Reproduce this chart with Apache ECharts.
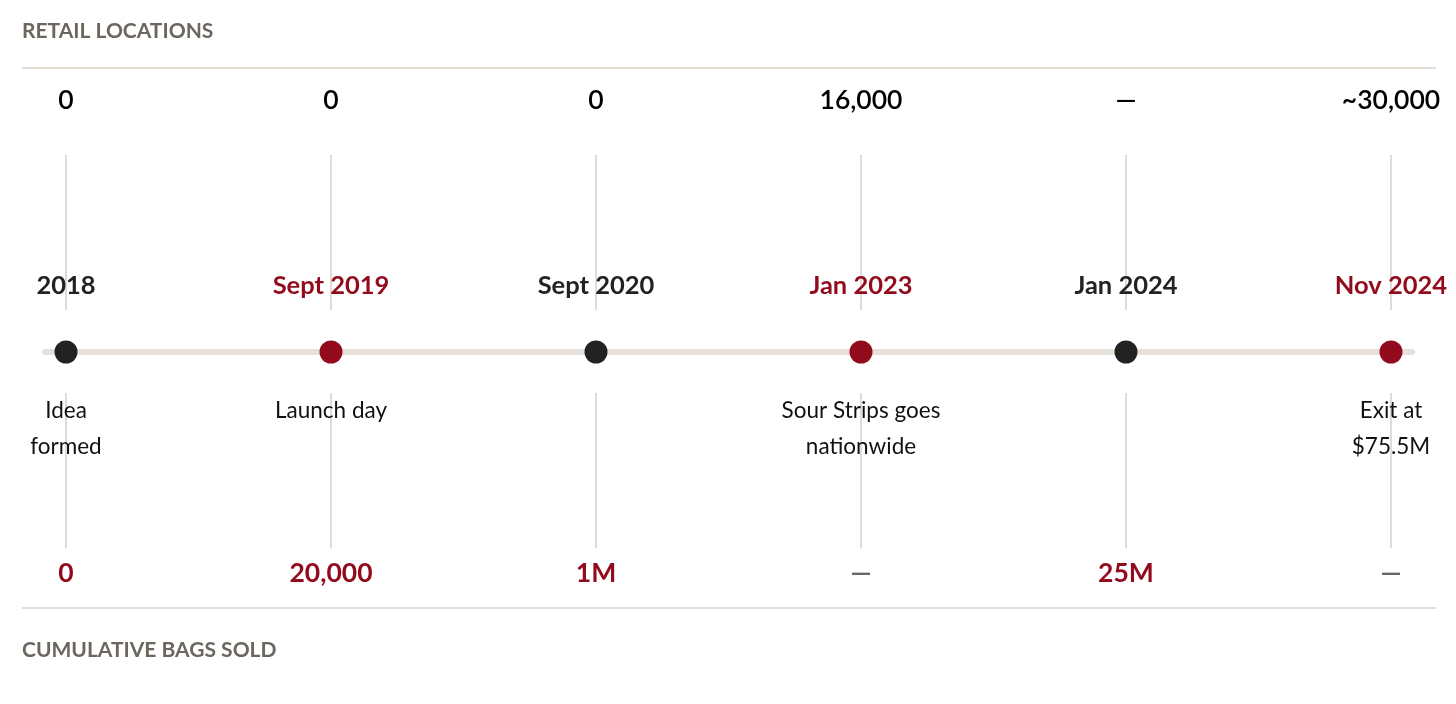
<!DOCTYPE html>
<html lang="en">
<head>
    <meta charset="UTF-8">
    <title>Timeline</title>
    <script src="https://cdn.jsdelivr.net/npm/echarts@6/dist/echarts.min.js"></script>
    <style>
        html, body { margin: 0; padding: 0; background: #fff; }
        #main { width: 1456px; height: 704px; }
    </style>
</head>
<body>
    <div id="main"></div>
    <script type="text/javascript">
        // data
        var dates = ['2018', 'Sept 2019', 'Sept 2020', 'Jan 2023', 'Jan 2024', 'Nov 2024'];
        var events = ['Idea\nformed', 'Launch day', '', 'Sour Strips goes\nnationwide', '', 'Exit at\n$75.5M'];
        var retailLocations = ['0', '0', '0', '16,000', '—', '~30,000'];
        var bagsSold = ['0', '20,000', '1M', '—', '25M', '—'];
        var highlight = [false, true, false, true, false, true];

        var RED = '#920b1d';
        var BLACK = '#222222';
        var GREY_LINE = '#e0dcd5';
        var FONT = 'Lato, "Noto Sans", sans-serif';

        // y units are pixels relative to the timeline (up = positive)
        var ROW_TOP = 252, ROW_BOTTOM = -221;
        var SEG_UP = [197, 42], SEG_DOWN = [-41, -196];

        var myChart = echarts.init(document.getElementById('main'));

        var idx = dates.map(function (d, i) { return i; });

        myChart.setOption({
            animation: false,
            title: [{
                text: 'RETAIL LOCATIONS',
                left: 17, top: 16,
                textStyle: { fontFamily: FONT, fontSize: 21, fontWeight: 'bold', color: '#6b675f' }
            }, {
                text: 'CUMULATIVE BAGS SOLD',
                left: 17, top: 635,
                textStyle: { fontFamily: FONT, fontSize: 21, fontWeight: 'bold', color: '#6b675f' }
            }],
            graphic: [
                { type: 'line', shape: { x1: 22, y1: 68, x2: 1436, y2: 68 }, style: { stroke: '#e3ddd5', lineWidth: 2 } },
                { type: 'line', shape: { x1: 22, y1: 608, x2: 1436, y2: 608 }, style: { stroke: '#e3ddd5', lineWidth: 2 } }
            ],
            grid: { left: 45, right: 44, top: 68, bottom: 96 },
            xAxis: {
                type: 'value',
                min: -21 / 265, max: 5 + 21 / 265,
                axisLine: { show: true, onZero: true, lineStyle: { color: '#e6e1db', width: 6 } },
                axisTick: { show: false },
                axisLabel: { show: false },
                splitLine: { show: false }
            },
            yAxis: {
                type: 'value', min: -256, max: 284, show: false,
                splitLine: { show: false }
            },
            series: [{
                // vertical guide segments
                type: 'custom',
                silent: true,
                z: 1,
                data: idx,
                renderItem: function (params, api) {
                    var i = api.value(0);
                    var a = api.coord([i, SEG_UP[0]]), b = api.coord([i, SEG_UP[1]]);
                    var c = api.coord([i, SEG_DOWN[0]]), d = api.coord([i, SEG_DOWN[1]]);
                    var st = { stroke: GREY_LINE, lineWidth: 2 };
                    return {
                        type: 'group',
                        children: [
                            { type: 'line', shape: { x1: a[0], y1: a[1], x2: b[0], y2: b[1] }, style: st },
                            { type: 'line', shape: { x1: c[0], y1: c[1], x2: d[0], y2: d[1] }, style: st }
                        ]
                    };
                }
            }, {
                // dots with date labels
                type: 'scatter',
                z: 5,
                symbolSize: 23,
                data: idx.map(function (i) {
                    var col = highlight[i] ? RED : BLACK;
                    return {
                        value: [i, 0],
                        itemStyle: { color: col, opacity: 1 },
                        label: { color: col }
                    };
                }),
                label: {
                    show: true, position: 'top', distance: 40,
                    formatter: function (p) { return dates[p.dataIndex]; },
                    fontFamily: FONT, fontSize: 25.5, fontWeight: 'bold', lineHeight: 30
                }
            }, {
                // event descriptions
                type: 'scatter',
                z: 6,
                symbolSize: 23,
                itemStyle: { color: 'transparent', opacity: 1 },
                data: idx.map(function (i) { return [i, 0]; }),
                label: {
                    show: true, position: 'bottom', distance: 29,
                    formatter: function (p) { return events[p.dataIndex]; },
                    fontFamily: FONT, fontSize: 22.5, color: '#111111', lineHeight: 36, align: 'center'
                }
            }, {
                // retail locations row
                type: 'scatter',
                symbolSize: 1,
                itemStyle: { color: 'transparent', opacity: 1 },
                data: idx.map(function (i) { return [i, ROW_TOP]; }),
                label: {
                    show: true, position: 'inside',
                    formatter: function (p) { return retailLocations[p.dataIndex]; },
                    fontFamily: FONT, fontSize: 26.5, fontWeight: 600, color: '#000000'
                }
            }, {
                // bags sold row
                type: 'scatter',
                symbolSize: 1,
                itemStyle: { color: 'transparent', opacity: 1 },
                data: idx.map(function (i) {
                    var dash = bagsSold[i] === '—';
                    return {
                        value: [i, ROW_BOTTOM],
                        label: { color: dash ? '#666666' : RED }
                    };
                }),
                label: {
                    show: true, position: 'inside',
                    formatter: function (p) { return bagsSold[p.dataIndex]; },
                    fontFamily: FONT, fontSize: 26.5, fontWeight: 'bold'
                }
            }]
        });
    </script>
</body>
</html>
